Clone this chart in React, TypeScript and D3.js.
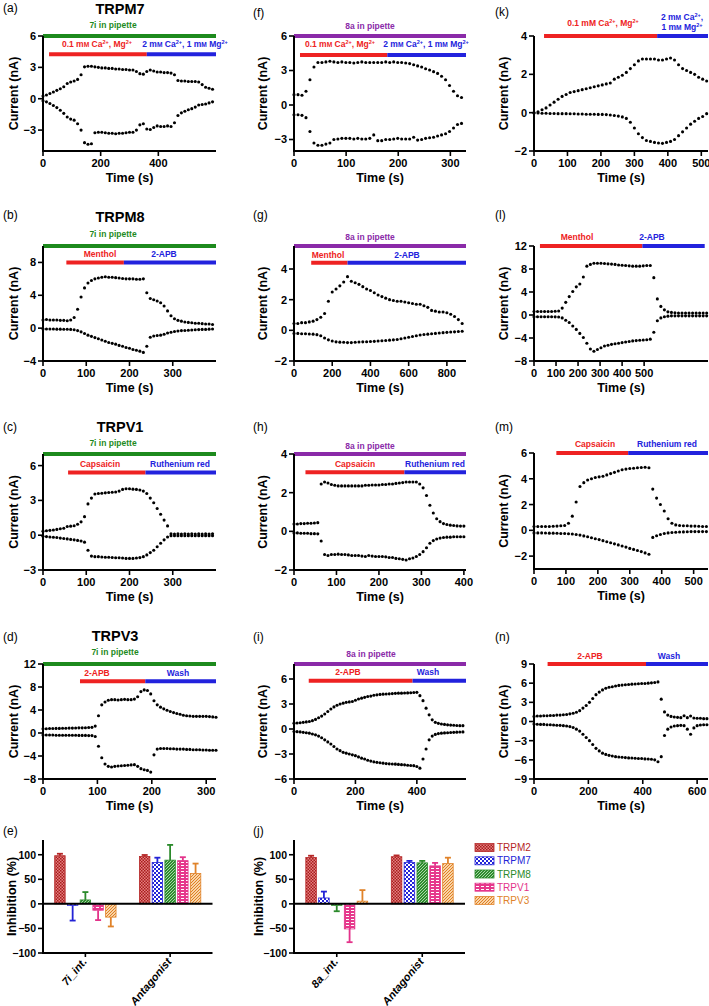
import React from 'react'
import * as d3 from 'd3'

// ---------- whole-cell current traces (time in s, current in nA) ----------
const aTime = [0,12,24,36,48,60,72,84,96,108,120,132,144,156,168,180,192,204,216,228,240,252,264,276,288,300,312,324,336,348,360,372,384,396,408,420,432,444,456,468,480,492,504,516,528,540,552,564,576,588]
const aUp = [0.25,0.35,0.5,0.65,0.8,0.95,1.15,1.45,1.6,1.7,1.85,2.3,3.05,3.1,3.1,3.05,3.0,2.95,2.95,2.9,2.9,2.85,2.85,2.8,2.8,2.75,2.75,2.6,2.4,2.35,2.6,2.75,2.65,2.55,2.55,2.5,2.5,2.45,2.3,1.75,1.7,1.7,1.65,1.65,1.65,1.6,1.35,1.1,1.0,0.9]
const aDown = [-0.2,-0.3,-0.45,-0.65,-0.85,-1.1,-1.4,-1.75,-1.95,-2.05,-2.4,-3.0,-4.2,-4.35,-4.3,-3.25,-3.2,-3.2,-3.25,-3.3,-3.3,-3.35,-3.3,-3.3,-3.25,-3.2,-3.2,-3.0,-2.5,-2.4,-2.9,-2.95,-2.75,-2.6,-2.65,-2.65,-2.6,-2.65,-2.3,-1.6,-1.35,-1.2,-1.05,-0.95,-0.8,-0.6,-0.55,-0.5,-0.4,-0.3]

const fTime = [0,7.7,15.3,23,30.6,38.3,45.9,53.6,61.2,68.9,76.5,84.2,91.8,99.5,107.1,114.8,122.4,130.1,137.7,145.4,153,160.7,168.3,176,183.7,191.3,199,206.6,214.3,221.9,229.6,237.2,244.9,252.5,260.2,267.8,275.5,283.1,290.8,298.4,306.1,313.7,321.4]
const fUp = [0.9,0.9,0.85,1.2,2.2,3.3,3.7,3.7,3.75,3.8,3.75,3.7,3.75,3.7,3.7,3.65,3.7,3.75,3.7,3.7,3.7,3.7,3.7,3.75,3.7,3.75,3.7,3.7,3.65,3.6,3.5,3.4,3.3,3.15,3.05,2.9,2.75,2.5,2.2,1.7,1.2,0.8,0.65]
const fDown = [-0.85,-0.85,-0.9,-1.1,-2.3,-3.3,-3.5,-3.5,-3.4,-3.3,-3.0,-2.95,-2.9,-2.9,-2.9,-2.95,-2.9,-2.95,-2.95,-2.9,-2.6,-3.1,-3.1,-3.0,-3.0,-2.95,-2.9,-2.95,-2.95,-2.95,-2.8,-3.05,-3.0,-2.9,-2.85,-2.8,-2.7,-2.6,-2.5,-2.3,-2.0,-1.7,-1.6]

const kTime = [0,12,24,36,48,60,72,84,96,108,120,132,144,156,168,180,192,204,216,228,240,252,264,276,288,300,312,324,336,348,360,372,384,396,408,420,432,444,456,468,480,492,504,516]
const kUp = [0.0,0.05,0.15,0.25,0.4,0.55,0.7,0.85,0.95,1.05,1.1,1.15,1.2,1.25,1.3,1.35,1.4,1.45,1.5,1.55,1.75,1.85,1.95,2.1,2.3,2.5,2.7,2.8,2.8,2.8,2.8,2.75,2.75,2.8,2.85,2.75,2.5,2.3,2.2,2.1,2.0,1.85,1.75,1.65]
const kDown = [-0.02,-0.02,-0.03,-0.03,-0.04,-0.04,-0.05,-0.05,-0.05,-0.06,-0.06,-0.07,-0.07,-0.08,-0.08,-0.08,-0.09,-0.09,-0.1,-0.12,-0.15,-0.18,-0.22,-0.3,-0.5,-0.8,-1.1,-1.3,-1.45,-1.5,-1.55,-1.58,-1.6,-1.55,-1.5,-1.4,-1.2,-1.0,-0.8,-0.6,-0.45,-0.3,-0.2,-0.05]

const bTime = [0,8,16,24,32,40,48,56,64,72,80,88,96,104,112,120,128,136,144,152,160,168,176,184,192,200,208,216,224,232,240,248,256,264,272,280,288,296,304,312,320,328,336,344,352,360,368,376,384,392]
const bUp = [1.0,1.05,1.0,1.0,1.0,0.95,0.95,0.9,1.0,1.3,2.3,3.8,4.9,5.5,5.8,6.0,6.1,6.2,6.25,6.2,6.2,6.15,6.1,6.05,6.0,6.0,6.0,5.95,5.95,6.0,4.3,3.6,3.45,3.3,3.1,2.7,2.1,1.5,1.15,0.95,0.85,0.75,0.7,0.65,0.6,0.6,0.55,0.5,0.5,0.45]
const bDown = [-0.1,-0.1,-0.1,-0.1,-0.12,-0.12,-0.13,-0.14,-0.15,-0.2,-0.3,-0.45,-0.65,-0.85,-1.0,-1.15,-1.3,-1.45,-1.6,-1.75,-1.85,-1.95,-2.1,-2.2,-2.35,-2.45,-2.6,-2.7,-2.8,-2.95,-2.2,-1.1,-0.95,-0.9,-0.85,-0.75,-0.6,-0.5,-0.4,-0.35,-0.3,-0.28,-0.25,-0.22,-0.2,-0.18,-0.15,-0.15,-0.12,-0.1]

const gTime = [0,20,40,60,80,100,120,140,160,180,200,220,240,260,280,300,320,340,360,380,400,420,440,460,480,500,520,540,560,580,600,620,640,660,680,700,720,740,760,780,800,820,840,860,880]
const gUp = [0.45,0.45,0.5,0.5,0.55,0.6,0.7,0.85,1.1,1.9,2.5,2.7,2.9,3.15,3.5,3.2,3.1,3.0,2.85,2.7,2.6,2.45,2.3,2.2,2.1,2.0,1.95,1.9,1.9,1.85,1.8,1.75,1.7,1.7,1.6,1.5,1.3,1.25,1.2,1.2,1.15,1.05,0.9,0.7,0.45]
const gDown = [-0.2,-0.2,-0.22,-0.22,-0.24,-0.25,-0.28,-0.35,-0.5,-0.62,-0.7,-0.75,-0.77,-0.78,-0.8,-0.8,-0.78,-0.76,-0.75,-0.74,-0.73,-0.72,-0.7,-0.68,-0.66,-0.64,-0.62,-0.6,-0.55,-0.5,-0.45,-0.4,-0.35,-0.3,-0.27,-0.25,-0.22,-0.2,-0.17,-0.15,-0.13,-0.11,-0.1,-0.08,-0.06]

const lTime = [0,16,32,48,64,80,96,112,128,144,160,176,192,208,224,240,256,272,288,304,320,336,352,368,384,400,416,432,448,464,480,496,512,528,544,560,576,592,608,624,640,656,672,688,704,720,736,752,768,784]
const lUp = [0.6,0.6,0.6,0.6,0.6,0.6,0.65,0.7,1.2,2.2,3.2,4.1,4.9,5.4,6.6,8.5,8.8,9.0,9.0,9.0,8.95,8.9,8.85,8.8,8.7,8.65,8.6,8.55,8.5,8.5,8.5,8.55,8.6,8.6,6.5,2.8,1.5,0.9,0.55,0.45,0.4,0.35,0.35,0.35,0.35,0.35,0.35,0.35,0.35,0.35]
const lDown = [-0.3,-0.3,-0.3,-0.3,-0.3,-0.3,-0.32,-0.35,-0.5,-0.9,-1.3,-1.9,-2.5,-3.2,-3.9,-4.9,-5.9,-6.3,-6.0,-5.7,-5.4,-5.25,-5.1,-5.0,-4.9,-4.8,-4.7,-4.6,-4.5,-4.45,-4.4,-4.35,-4.3,-4.2,-3.0,-1.0,-0.5,-0.3,-0.2,-0.15,-0.15,-0.15,-0.15,-0.15,-0.15,-0.15,-0.15,-0.15,-0.15,-0.15]

const cTime = [0,8,16,24,32,40,48,56,64,72,80,88,96,104,112,120,128,136,144,152,160,168,176,184,192,200,208,216,224,232,240,248,256,264,272,280,288,296,304,312,320,328,336,344,352,360,368,376,384,392]
const cUp = [0.35,0.38,0.42,0.45,0.5,0.55,0.6,0.75,0.78,0.82,0.95,1.15,1.6,2.7,3.2,3.55,3.6,3.62,3.65,3.68,3.7,3.72,3.8,3.95,4.0,4.0,3.97,3.95,3.9,3.8,3.6,3.2,2.8,2.3,1.8,1.3,0.8,0.12,0.1,0.12,0.1,0.12,0.1,0.12,0.1,0.12,0.1,0.12,0.1,0.12]
const cDown = [-0.1,-0.12,-0.15,-0.18,-0.2,-0.25,-0.28,-0.32,-0.36,-0.4,-0.45,-0.5,-0.6,-1.3,-1.8,-1.85,-1.85,-1.88,-1.9,-1.9,-1.92,-1.95,-1.95,-1.97,-2.0,-2.0,-2.0,-1.97,-1.93,-1.85,-1.7,-1.5,-1.3,-1.0,-0.7,-0.4,-0.15,-0.05,-0.05,-0.05,-0.05,-0.05,-0.05,-0.05,-0.05,-0.05,-0.05,-0.05,-0.05,-0.05]

const hTime = [0,8,16,24,32,40,48,56,64,72,80,88,96,104,112,120,128,136,144,152,160,168,176,184,192,200,208,216,224,232,240,248,256,264,272,280,288,296,304,312,320,328,336,344,352,360,368,376,384,392,400]
const hUp = [0.38,0.38,0.4,0.4,0.42,0.42,0.43,0.45,2.45,2.55,2.5,2.42,2.38,2.35,2.35,2.35,2.35,2.35,2.35,2.35,2.35,2.38,2.38,2.4,2.4,2.4,2.42,2.42,2.45,2.45,2.48,2.5,2.52,2.55,2.55,2.55,2.55,2.45,2.25,1.85,1.35,0.95,0.65,0.5,0.4,0.35,0.32,0.3,0.28,0.27,0.27]
const hDown = [-0.08,-0.08,-0.1,-0.1,-0.1,-0.12,-0.12,-0.13,-0.5,-1.2,-1.25,-1.2,-1.2,-1.18,-1.2,-1.2,-1.22,-1.25,-1.25,-1.25,-1.28,-1.3,-1.25,-1.28,-1.3,-1.3,-1.3,-1.32,-1.35,-1.35,-1.4,-1.42,-1.45,-1.48,-1.42,-1.38,-1.3,-1.2,-1.05,-0.85,-0.62,-0.48,-0.4,-0.35,-0.32,-0.3,-0.3,-0.28,-0.28,-0.28,-0.28]

const mTime = [0,12,24,36,48,60,72,84,96,108,120,132,144,156,168,180,192,204,216,228,240,252,264,276,288,300,312,324,336,348,360,372,384,396,408,420,432,444,456,468,480,492,504,516,528,540]
const mUp = [0.3,0.3,0.3,0.3,0.3,0.32,0.33,0.35,0.38,0.55,1.1,2.2,3.4,3.7,3.9,4.0,4.1,4.15,4.2,4.3,4.4,4.5,4.6,4.7,4.75,4.8,4.82,4.85,4.88,4.9,4.85,3.2,2.5,2.0,1.5,0.9,0.55,0.42,0.38,0.35,0.35,0.33,0.33,0.32,0.3,0.3]
const mDown = [-0.2,-0.2,-0.2,-0.21,-0.22,-0.22,-0.23,-0.24,-0.25,-0.27,-0.29,-0.32,-0.37,-0.43,-0.5,-0.57,-0.65,-0.72,-0.8,-0.88,-0.96,-1.05,-1.13,-1.22,-1.3,-1.4,-1.48,-1.56,-1.65,-1.75,-1.85,-0.55,-0.42,-0.32,-0.25,-0.2,-0.17,-0.15,-0.13,-0.12,-0.11,-0.1,-0.1,-0.1,-0.1,-0.1]

const dTime = [0,6,12,18,24,30,36,42,48,54,60,66,72,78,84,90,96,102,108,114,120,126,132,138,144,150,156,162,168,174,180,186,192,198,204,210,216,222,228,234,240,246,252,258,264,270,276,282,288,294,300,306,312,318]
const dUp = [0.75,0.75,0.78,0.78,0.8,0.8,0.82,0.82,0.85,0.85,0.88,0.9,0.9,0.92,0.95,0.98,1.2,3.0,4.9,5.4,5.7,5.8,5.8,5.75,5.8,5.85,5.8,5.8,5.9,6.3,7.2,7.5,7.4,6.8,5.6,4.9,4.5,4.2,3.95,3.75,3.55,3.4,3.25,3.1,3.0,2.95,2.9,2.9,2.9,2.9,2.9,2.85,2.8,2.75]
const dDown = [-0.35,-0.35,-0.35,-0.35,-0.38,-0.38,-0.38,-0.4,-0.4,-0.4,-0.4,-0.42,-0.42,-0.42,-0.45,-0.45,-0.6,-2.3,-4.3,-5.4,-5.8,-5.9,-5.8,-5.75,-5.7,-5.65,-5.6,-5.55,-5.5,-5.8,-6.2,-6.4,-6.5,-6.8,-3.8,-2.8,-2.7,-2.7,-2.7,-2.75,-2.75,-2.8,-2.8,-2.8,-2.85,-2.85,-2.9,-2.9,-2.9,-2.95,-2.95,-3.0,-3.0,-3.0]

const iTime = [0,10,20,30,40,50,60,70,80,90,100,110,120,130,140,150,160,170,180,190,200,210,220,230,240,250,260,270,280,290,300,310,320,330,340,350,360,370,380,390,400,410,420,430,440,450,460,470,480,490,500,510,520,530,540,550]
const iUp = [0.7,0.72,0.75,0.8,0.85,0.9,1.0,1.15,1.35,1.55,1.8,2.1,2.4,2.65,2.85,3.0,3.1,3.2,3.25,3.3,3.45,3.6,3.7,3.8,3.9,3.95,4.05,4.1,4.15,4.18,4.2,4.22,4.25,4.28,4.3,4.3,4.32,4.33,4.35,4.38,4.4,4.0,3.4,2.5,1.7,1.1,0.8,0.68,0.6,0.55,0.5,0.47,0.45,0.42,0.4,0.4]
const iDown = [-0.3,-0.32,-0.35,-0.4,-0.45,-0.5,-0.6,-0.7,-0.85,-1.05,-1.3,-1.55,-1.8,-2.1,-2.4,-2.6,-2.8,-2.9,-3.0,-3.1,-3.2,-3.35,-3.5,-3.6,-3.75,-3.85,-3.95,-4.0,-4.05,-4.1,-4.15,-4.18,-4.2,-4.22,-4.25,-4.28,-4.3,-4.35,-4.38,-4.4,-4.5,-4.7,-3.6,-2.4,-1.3,-0.85,-0.65,-0.55,-0.5,-0.47,-0.45,-0.42,-0.4,-0.38,-0.36,-0.35]

const nTime = [0,12,24,36,48,60,72,84,96,108,120,132,144,156,168,180,192,204,216,228,240,252,264,276,288,300,312,324,336,348,360,372,384,396,408,420,432,444,456,468,480,492,504,516,528,540,552,564,576,588,600,612,624,636]
const nUp = [0.8,0.85,0.85,0.9,0.9,0.95,0.95,1.0,1.0,1.05,1.1,1.2,1.3,1.45,1.7,2.1,2.5,3.0,3.6,4.2,4.6,4.95,5.2,5.35,5.45,5.55,5.65,5.7,5.75,5.8,5.85,5.88,5.9,5.95,5.95,6.0,6.05,6.1,6.2,3.5,1.5,1.0,0.8,0.7,0.65,0.6,0.9,0.6,0.85,0.55,0.5,0.5,0.45,0.45]
const nDown = [-0.4,-0.42,-0.45,-0.45,-0.5,-0.52,-0.55,-0.58,-0.6,-0.65,-0.7,-0.8,-0.95,-1.2,-1.5,-2.0,-2.5,-3.0,-3.6,-4.2,-4.6,-4.95,-5.15,-5.3,-5.4,-5.5,-5.55,-5.6,-5.65,-5.7,-5.72,-5.75,-5.78,-5.8,-5.85,-5.88,-5.9,-6.0,-6.3,-5.5,-2.2,-1.2,-0.85,-0.7,-0.65,-0.6,-0.65,-1.2,-2.0,-1.0,-0.65,-0.55,-0.5,-0.5]

// ---------- inhibition summary (%) ----------
const channels = ['TRPM2', 'TRPM7', 'TRPM8', 'TRPV1', 'TRPV3']
const eGroups = ['7i_int.', 'Antagonist']
const jGroups = ['8a_int.', 'Antagonist']
const e7iMean = [98, -3, 8, -13, -27]
const e7iErr = [4, 31, 16, 20, 19]
const eAntMean = [96.5, 84, 89, 88, 62]
const eAntErr = [3, 10, 31, 7, 20]
const j8aMean = [94.5, 12, -3, -51, 5.5]
const j8aErr = [3.5, 13, 12, 27, 22.5]
const jAntMean = [96, 84, 83.5, 77.4, 82]
const jAntErr = [2.6, 3.5, 4, 6, 12]

const FONT = '"Liberation Sans", Arial, Helvetica, sans-serif'
const RED = '#ee2222'
const BLUE = '#2222dd'
const GREEN = '#1d8a1d'
const PURPLE = '#8a2aa8'
const chColor = ['#b52626', '#2323d6', '#2b8a2b', '#e3338a', '#e0832a']

type Part = { t: string; sup?: boolean; sc?: boolean }
const lowIons: Part[] = [{ t: '0.1 m' }, { t: 'M', sc: true }, { t: ' Ca' }, { t: '2+', sup: true }, { t: ', Mg' }, { t: '2+', sup: true }]
const lowIonsK: Part[] = [{ t: '0.1 mM Ca' }, { t: '2+', sup: true }, { t: ', Mg' }, { t: '2+', sup: true }]
const highIons: Part[] = [{ t: '2 m' }, { t: 'M', sc: true }, { t: ' Ca' }, { t: '2+', sup: true }, { t: ', 1 m' }, { t: 'M', sc: true }, { t: ' Mg' }, { t: '2+', sup: true }]
const highIonsK1: Part[] = [{ t: '2 m' }, { t: 'M', sc: true }, { t: ' Ca' }, { t: '2+', sup: true }, { t: ',' }]
const highIonsK2: Part[] = [{ t: '1 m' }, { t: 'M', sc: true }, { t: ' Mg' }, { t: '2+', sup: true }]

function Rich({ x, y, color, parts, size = 8.5 }: { x: number; y: number; color: string; parts: Part[]; size?: number }) {
  let lift = 0
  return (
    <text x={x} y={y} fill={color} fontSize={size} fontWeight="bold" textAnchor="middle" fontFamily={FONT}>
      {parts.map((p, i) => {
        const target = p.sup ? -3 : 0
        const dy = target - lift
        lift = target
        return (
          <tspan key={i} dy={dy} fontSize={p.sup ? size * 0.65 : p.sc ? size * 0.78 : size}>{p.t}</tspan>
        )
      })}
    </text>
  )
}

type Label = { parts: Part[]; pos: [number, number] }
type Panel = {
  letter: string; letterPos: [number, number]
  title?: string; titlePos?: [number, number]
  x0: number; x1: number; yTop: number; yBot: number; yLabelX: number
  xDomain: [number, number]; yDomain: [number, number]
  xTicks: number[]; yTicks: number[]
  time: number[]; up: number[]; down: number[]
  pipette?: { text: string; color: string; pos: [number, number] }
  level: number; redSpan: [number, number]; blueSpan: [number, number]
  redLabels: Label[]; blueLabels: Label[]
}

const txt = (s: string): Part[] => [{ t: s }]
const C1 = [43, 216], C2 = [294, 466], C3 = [534, 708]
const R1 = [36, 151], R2 = [246, 361], R3 = [454, 570], R4 = [664, 779]

const panels: Panel[] = [
  { letter: '(a)', letterPos: [3, 12], title: 'TRPM7', titlePos: [120, 14], x0: C1[0], x1: C1[1], yTop: R1[0], yBot: R1[1], yLabelX: 13,
    xDomain: [0, 600], yDomain: [-5, 6], xTicks: [0, 200, 400], yTicks: [-3, 0, 3, 6], time: aTime, up: aUp, down: aDown,
    pipette: { text: '7i in pipette', color: GREEN, pos: [113, 28] }, level: 4.25, redSpan: [21, 360], blueSpan: [360, 600],
    redLabels: [{ parts: lowIons, pos: [97, 47] }], blueLabels: [{ parts: highIons, pos: [185, 47] }] },
  { letter: '(f)', letterPos: [253, 17], x0: C2[0], x1: C2[1], yTop: R1[0], yBot: R1[1], yLabelX: 262,
    xDomain: [0, 330], yDomain: [-4, 6], xTicks: [0, 100, 200, 300], yTicks: [-3, 0, 3, 6], time: fTime, up: fUp, down: fDown,
    pipette: { text: '8a in pipette', color: PURPLE, pos: [370, 29] }, level: 4.35, redSpan: [11.5, 179], blueSpan: [179, 330],
    redLabels: [{ parts: lowIons, pos: [340, 47] }], blueLabels: [{ parts: highIons, pos: [426, 47] }] },
  { letter: '(k)', letterPos: [495, 16], x0: C3[0], x1: C3[1], yTop: R1[0], yBot: R1[1], yLabelX: 503,
    xDomain: [0, 520], yDomain: [-2, 4], xTicks: [0, 100, 200, 300, 400, 500], yTicks: [-2, 0, 2, 4], time: kTime, up: kUp, down: kDown,
    level: 4, redSpan: [30, 368], blueSpan: [368, 520],
    redLabels: [{ parts: lowIonsK, pos: [603, 26] }], blueLabels: [{ parts: highIonsK1, pos: [682, 20] }, { parts: highIonsK2, pos: [682, 30] }] },

  { letter: '(b)', letterPos: [3, 219], title: 'TRPM8', titlePos: [120, 222], x0: C1[0], x1: C1[1], yTop: R2[0], yBot: R2[1], yLabelX: 13,
    xDomain: [0, 400], yDomain: [-4, 10], xTicks: [0, 100, 200, 300], yTicks: [-4, 0, 4, 8], time: bTime, up: bUp, down: bDown,
    pipette: { text: '7i in pipette', color: GREEN, pos: [113, 237] }, level: 8, redSpan: [54, 187], blueSpan: [187, 400],
    redLabels: [{ parts: txt('Menthol'), pos: [100, 257] }], blueLabels: [{ parts: txt('2-APB'), pos: [164, 257] }] },
  { letter: '(g)', letterPos: [253, 219], x0: C2[0], x1: C2[1], yTop: R2[0], yBot: R2[1], yLabelX: 262,
    xDomain: [0, 900], yDomain: [-2, 5.5], xTicks: [0, 200, 400, 600, 800], yTicks: [-2, 0, 2, 4], time: gTime, up: gUp, down: gDown,
    pipette: { text: '8a in pipette', color: PURPLE, pos: [370, 240] }, level: 4.4, redSpan: [90, 280], blueSpan: [280, 900],
    redLabels: [{ parts: txt('Menthol'), pos: [328, 258] }], blueLabels: [{ parts: txt('2-APB'), pos: [407, 258] }] },
  { letter: '(l)', letterPos: [495, 219], x0: C3[0], x1: C3[1], yTop: R2[0], yBot: R2[1], yLabelX: 503,
    xDomain: [0, 790], yDomain: [-8, 12], xTicks: [0, 100, 200, 300, 400, 500], yTicks: [-8, -4, 0, 4, 8, 12], time: lTime, up: lUp, down: lDown,
    level: 12, redSpan: [27, 492], blueSpan: [492, 775],
    redLabels: [{ parts: txt('Menthol'), pos: [577, 240] }], blueLabels: [{ parts: txt('2-APB'), pos: [652, 240] }] },

  { letter: '(c)', letterPos: [3, 431], title: 'TRPV1', titlePos: [120, 432], x0: C1[0], x1: C1[1], yTop: R3[0], yBot: R3[1], yLabelX: 13,
    xDomain: [0, 400], yDomain: [-3, 7], xTicks: [0, 100, 200, 300], yTicks: [-3, 0, 3, 6], time: cTime, up: cUp, down: cDown,
    pipette: { text: '7i in pipette', color: GREEN, pos: [113, 446] }, level: 5.4, redSpan: [58, 237], blueSpan: [237, 400],
    redLabels: [{ parts: txt('Capsaicin'), pos: [100, 467] }], blueLabels: [{ parts: txt('Ruthenium red'), pos: [180, 467] }] },
  { letter: '(h)', letterPos: [253, 431], x0: C2[0], x1: C2[1], yTop: R3[0], yBot: R3[1], yLabelX: 262,
    xDomain: [0, 405], yDomain: [-2, 4], xTicks: [0, 100, 200, 300, 400], yTicks: [-2, 0, 2, 4], time: hTime, up: hUp, down: hDown,
    pipette: { text: '8a in pipette', color: PURPLE, pos: [370, 449] }, level: 3.06, redSpan: [27, 260], blueSpan: [260, 405],
    redLabels: [{ parts: txt('Capsaicin'), pos: [355, 467] }], blueLabels: [{ parts: txt('Ruthenium red'), pos: [435, 467] }] },
  { letter: '(m)', letterPos: [495, 431], x0: C3[0], x1: C3[1], yTop: R3[0] - 1, yBot: R3[1] - 1, yLabelX: 503,
    xDomain: [0, 545], yDomain: [-3, 6], xTicks: [0, 100, 200, 300, 400, 500], yTicks: [-2, 0, 2, 4, 6], time: mTime, up: mUp, down: mDown,
    level: 6, redSpan: [70, 295], blueSpan: [295, 545],
    redLabels: [{ parts: txt('Capsaicin'), pos: [595, 447] }], blueLabels: [{ parts: txt('Ruthenium red'), pos: [667, 447] }] },

  { letter: '(d)', letterPos: [3, 641], title: 'TRPV3', titlePos: [115, 641], x0: C1[0], x1: C1[1], yTop: R4[0], yBot: R4[1], yLabelX: 13,
    xDomain: [0, 318], yDomain: [-8, 12], xTicks: [0, 100, 200, 300], yTicks: [-8, -4, 0, 4, 8, 12], time: dTime, up: dUp, down: dDown,
    pipette: { text: '7i in pipette', color: GREEN, pos: [115, 655] }, level: 9, redSpan: [68, 188], blueSpan: [188, 318],
    redLabels: [{ parts: txt('2-APB'), pos: [97, 676] }], blueLabels: [{ parts: txt('Wash'), pos: [178, 676] }] },
  { letter: '(i)', letterPos: [253, 641], x0: C2[0], x1: C2[1], yTop: R4[0], yBot: R4[1], yLabelX: 262,
    xDomain: [0, 560], yDomain: [-6, 7.8], xTicks: [0, 200, 400], yTicks: [-6, -3, 0, 3, 6], time: iTime, up: iUp, down: iDown,
    pipette: { text: '8a in pipette', color: PURPLE, pos: [371, 657] }, level: 5.8, redSpan: [48, 386], blueSpan: [386, 560],
    redLabels: [{ parts: txt('2-APB'), pos: [348, 675] }], blueLabels: [{ parts: txt('Wash'), pos: [428, 675] }] },
  { letter: '(n)', letterPos: [495, 641], x0: C3[0], x1: C3[1], yTop: R4[0], yBot: R4[1], yLabelX: 503,
    xDomain: [0, 640], yDomain: [-9, 9], xTicks: [0, 200, 400, 600], yTicks: [-9, -6, -3, 0, 3, 6, 9], time: nTime, up: nUp, down: nDown,
    level: 9, redSpan: [50, 412], blueSpan: [412, 640],
    redLabels: [{ parts: txt('2-APB'), pos: [590, 659] }], blueLabels: [{ parts: txt('Wash'), pos: [669, 659] }] },
]

const fmt = d3.format('d')

function TracePanel({ p }: { p: Panel }) {
  const x = d3.scaleLinear().domain(p.xDomain).range([p.x0, p.x1])
  const y = d3.scaleLinear().domain(p.yDomain).range([p.yBot, p.yTop])
  const traces = [p.up, p.down]
  return (
    <g fontFamily={FONT}>
      <text x={p.letterPos[0]} y={p.letterPos[1]} fontSize={12}>{p.letter}</text>
      {p.title && <text x={p.titlePos![0]} y={p.titlePos![1]} fontSize={14.5} fontWeight="bold" textAnchor="middle">{p.title}</text>}
      {p.pipette && (
        <g>
          <line x1={p.x0} x2={p.x1} y1={p.yTop} y2={p.yTop} stroke={p.pipette.color} strokeWidth={4} />
          <text x={p.pipette.pos[0]} y={p.pipette.pos[1]} fill={p.pipette.color} fontSize={8.5} fontWeight="bold" textAnchor="middle">{p.pipette.text}</text>
        </g>
      )}
      <line x1={x(p.redSpan[0])} x2={x(p.redSpan[1])} y1={y(p.level)} y2={y(p.level)} stroke={RED} strokeWidth={4} />
      <line x1={x(p.blueSpan[0])} x2={x(p.blueSpan[1])} y1={y(p.level)} y2={y(p.level)} stroke={BLUE} strokeWidth={4} />
      {p.redLabels.map((l, i) => <Rich key={'r' + i} x={l.pos[0]} y={l.pos[1]} color={RED} parts={l.parts} />)}
      {p.blueLabels.map((l, i) => <Rich key={'b' + i} x={l.pos[0]} y={l.pos[1]} color={BLUE} parts={l.parts} />)}
      {traces.map((tr, k) => (
        <g key={k}>
          {tr.slice(0, p.time.length).map((v, i) => (
            <circle key={i} cx={x(p.time[i])} cy={y(v)} r={1.55} fill="#000" />
          ))}
        </g>
      ))}
      <line x1={p.x0} x2={p.x0} y1={p.yTop} y2={p.yBot + 1} stroke="#000" strokeWidth={2} />
      <line x1={p.x0 - 1} x2={p.x1} y1={p.yBot} y2={p.yBot} stroke="#000" strokeWidth={2} />
      {p.yTicks.map(t => (
        <g key={'y' + t}>
          <line x1={p.x0 - 5} x2={p.x0} y1={y(t)} y2={y(t)} stroke="#000" strokeWidth={1.6} />
          <text x={p.x0 - 7} y={y(t)} dy="0.36em" textAnchor="end" fontSize={11} fontWeight="bold">{fmt(t)}</text>
        </g>
      ))}
      {p.xTicks.map(t => (
        <g key={'x' + t}>
          <line x1={x(t)} x2={x(t)} y1={p.yBot} y2={p.yBot + 5} stroke="#000" strokeWidth={1.6} />
          <text x={x(t)} y={p.yBot + 16} textAnchor="middle" fontSize={11} fontWeight="bold">{fmt(t)}</text>
        </g>
      ))}
      <text x={(p.x0 + p.x1) / 2} y={p.yBot + 31} textAnchor="middle" fontSize={12.5} fontWeight="bold">Time (s)</text>
      <text transform={`translate(${p.yLabelX},${(p.yTop + p.yBot) / 2}) rotate(-90)`} dy="0.36em" textAnchor="middle" fontSize={12.5} fontWeight="bold">Current (nA)</text>
    </g>
  )
}

function BarPanel({ letter, letterX, x0, x1, groups, means, errs, labelX }: {
  letter: string; letterX: number; x0: number; x1: number; groups: string[]; means: number[][]; errs: number[][]; labelX: number
}) {
  const y = d3.scaleLinear().domain([-100, 130]).range([953, 840])
  const gx = d3.scaleBand<string>().domain(groups).range([x0, x1]).padding(0)
  const bx = d3.scaleBand<string>().domain(channels).range([0, gx.bandwidth()]).paddingInner(0.18).paddingOuter(0.92)
  return (
    <g fontFamily={FONT}>
      <text x={letterX} y={835} fontSize={12}>{letter}</text>
      {groups.map((g, gi) => (
        <g key={g}>
          {channels.map((c, ci) => {
            const v = means[gi][ci]
            const e = errs[gi][ci]
            const bx0 = gx(g)! + bx(c)!
            const w = bx.bandwidth()
            const cx = bx0 + w / 2
            const tip = v >= 0 ? v + e : v - e
            return (
              <g key={c}>
                <rect x={bx0} width={w} y={Math.min(y(v), y(0))} height={Math.abs(y(v) - y(0))} fill={`url(#pat${ci})`} stroke={chColor[ci]} strokeWidth={0.8} />
                <line x1={cx} x2={cx} y1={y(v)} y2={y(tip)} stroke={chColor[ci]} strokeWidth={1.8} />
                <line x1={cx - 3} x2={cx + 3} y1={y(tip)} y2={y(tip)} stroke={chColor[ci]} strokeWidth={1.8} />
              </g>
            )
          })}
          <line x1={gx(g)! + gx.bandwidth() / 2} x2={gx(g)! + gx.bandwidth() / 2} y1={y(-100)} y2={y(-100) + 4} stroke="#000" strokeWidth={1.6} />
          <text transform={`translate(${gx(g)! + gx.bandwidth() / 2 + 2},${y(-100) + 9}) rotate(-50)`} textAnchor="end" fontSize={11} fontWeight="bold" fontStyle="italic">{g}</text>
        </g>
      ))}
      <line x1={x0} x2={x0} y1={y(130)} y2={y(-100) + 1} stroke="#000" strokeWidth={2} />
      <line x1={x0} x2={x1} y1={y(0)} y2={y(0)} stroke="#000" strokeWidth={2} />
      <line x1={x0 - 1} x2={x1} y1={y(-100)} y2={y(-100)} stroke="#000" strokeWidth={2} />
      {[-100, -50, 0, 50, 100].map(t => (
        <g key={t}>
          <line x1={x0 - 5} x2={x0} y1={y(t)} y2={y(t)} stroke="#000" strokeWidth={1.6} />
          <text x={x0 - 7} y={y(t)} dy="0.36em" textAnchor="end" fontSize={10.5} fontWeight="bold">{fmt(t)}</text>
        </g>
      ))}
      <text transform={`translate(${labelX},${(y(130) + y(-100)) / 2}) rotate(-90)`} dy="0.36em" textAnchor="middle" fontSize={12.5} fontWeight="bold">Inhibition (%)</text>
    </g>
  )
}

function Legend() {
  const rows = d3.scaleBand<string>().domain(channels).range([841, 907])
  return (
    <g fontFamily={FONT}>
      {channels.map((c, i) => (
        <g key={c}>
          <rect x={475} y={rows(c)! + rows.bandwidth() / 2 - 4} width={19} height={8} fill={`url(#pat${i})`} stroke={chColor[i]} strokeWidth={0.8} />
          <text x={497} y={rows(c)! + rows.bandwidth() / 2} dy="0.36em" fontSize={10} fill={chColor[i]}>{c}</text>
        </g>
      ))}
    </g>
  )
}

function Patterns() {
  return (
    <defs>
      <pattern id="pat0" width={3} height={3} patternUnits="userSpaceOnUse">
        <rect width={3} height={3} fill="#e48080" />
        <path d="M0 0h1.5v1.5H0zM1.5 1.5h1.5v1.5h-1.5z" fill="#a81c1c" />
      </pattern>
      <pattern id="pat1" width={4} height={4} patternUnits="userSpaceOnUse">
        <rect width={4} height={4} fill="#2424d8" />
        <path d="M0 0h2v2H0zM2 2h2v2H2z" fill="#ffffff" />
      </pattern>
      <pattern id="pat2" width={3} height={3} patternUnits="userSpaceOnUse">
        <rect width={3} height={3} fill="#2e8c2e" />
        <path d="M0 3L3 0" stroke="#b8e0b8" strokeWidth={0.9} />
      </pattern>
      <pattern id="pat3" width={5} height={3} patternUnits="userSpaceOnUse">
        <rect width={5} height={3} fill="#e6388c" />
        <rect x={1} y={1} width={3} height={1} fill="#ffffff" />
      </pattern>
      <pattern id="pat4" width={3} height={3} patternUnits="userSpaceOnUse">
        <rect width={3} height={3} fill="#f8d4a8" />
        <path d="M0 3L3 0M-1 1L1 -1M2 4L4 2" stroke="#e07f22" strokeWidth={1} />
      </pattern>
    </defs>
  )
}

export default function App() {
  return (
    <svg width={709} height={1006} style={{ position: 'absolute', left: 0, top: 0, background: '#fff' }}>
      <Patterns />
      {panels.map(p => <TracePanel key={p.letter} p={p} />)}
      <BarPanel letter="(e)" letterX={3} x0={43} x1={212.5} groups={eGroups} means={[e7iMean, eAntMean]} errs={[e7iErr, eAntErr]} labelX={11} />
      <BarPanel letter="(j)" letterX={253} x0={294} x1={465} groups={jGroups} means={[j8aMean, jAntMean]} errs={[j8aErr, jAntErr]} labelX={258} />
      <Legend />
    </svg>
  )
}
